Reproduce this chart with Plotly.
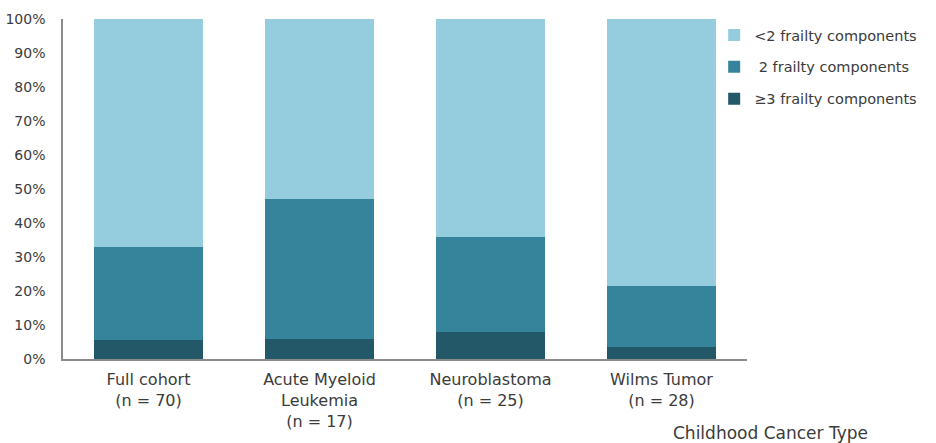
import plotly.graph_objects as go

# Childhood cancer cohorts (x axis) and share of patients by frailty burden (%)
categories = [
    "Full cohort<br>(n = 70)",
    "Acute Myeloid<br>Leukemia<br>(n = 17)",
    "Neuroblastoma<br>(n = 25)",
    "Wilms Tumor<br>(n = 28)",
]
three_plus = [5.7, 5.9, 8.0, 3.6]
two = [27.1, 41.2, 28.0, 17.9]
under_two = [67.1, 52.9, 64.0, 78.6]

series_names = ["\u22653 frailty components", " 2 frailty components", "<2 frailty components"]
series_values = [three_plus, two, under_two]
series_colors = ["#235869", "#35849B", "#95CDDE"]
legend_ranks = [3, 2, 1]

FONT = "DejaVu Sans"
TEXT = "#3b3b3b"

fig = go.Figure()
for i, (name, vals, col) in enumerate(zip(series_names, series_values, series_colors)):
    fig.add_trace(go.Bar(
        x=categories, y=vals, name=name,
        legendgroup=f"g{i}", legendrank=legend_ranks[i],
        marker=dict(color=col, line=dict(width=0)),
        hoverinfo="skip",
    ))

fig.update_layout(
    width=936, height=443,
    barmode="stack", bargap=0.36,
    plot_bgcolor="white", paper_bgcolor="white",
    margin=dict(l=63, r=189, t=19, b=84),
    font=dict(family=FONT, size=16, color=TEXT),
    showlegend=True,
    legend=dict(
        x=0.952, y=1.0, xanchor="left", yanchor="top",
        traceorder="grouped", tracegroupgap=10,
        font=dict(family=FONT, size=14.5, color=TEXT),
        itemwidth=30, bgcolor="rgba(0,0,0,0)", borderwidth=0,
    ),
    xaxis=dict(
        showline=True, linecolor="#8c8c8c", linewidth=1.5,
        ticks="", showgrid=False, tickfont=dict(size=16, color=TEXT),
        ticklabelstandoff=5, automargin=False,
    ),
    yaxis=dict(
        range=[0, 100], dtick=10, ticksuffix="%",
        showline=True, linecolor="#8c8c8c", linewidth=1.5,
        ticks="", showgrid=False, zeroline=False,
        tickfont=dict(size=14, color=TEXT), ticklabelstandoff=13,
        automargin=False,
    ),
    annotations=[dict(
        text="Childhood Cancer Type", xref="paper", yref="paper",
        x=1.18, y=-0.218, xanchor="right", yanchor="middle",
        showarrow=False, font=dict(family=FONT, size=17, color=TEXT),
    )],
)

fig.write_html("out.html")
